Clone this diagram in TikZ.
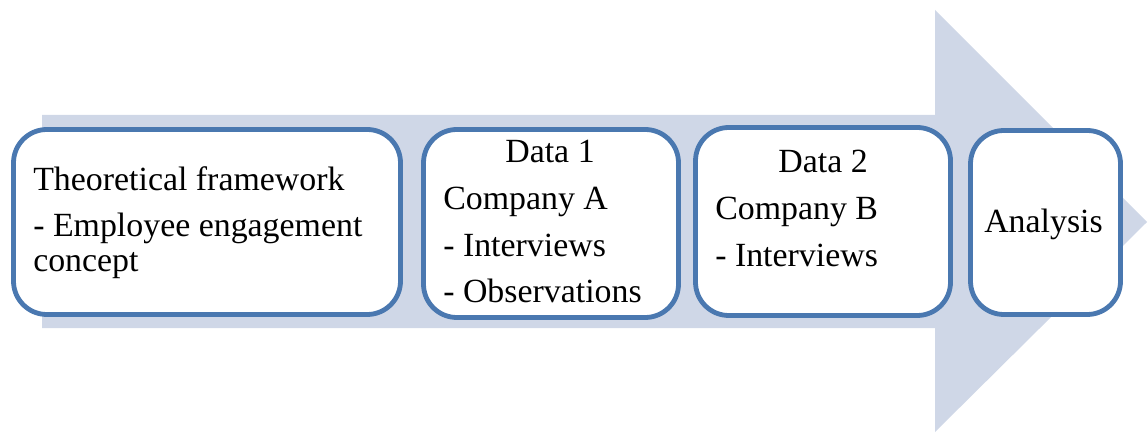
\documentclass[tikz,border=0pt]{standalone}
\usepackage{fontspec}
\setmainfont{Liberation Serif}
\definecolor{arrowfill}{HTML}{CFD7E7}
\definecolor{boxline}{HTML}{4A78B0}
\begin{document}
\begin{tikzpicture}[x=0.75pt,y=-0.75pt,
  box/.style={draw=boxline, line width=3.6pt, fill=white, rounded corners=25pt, inner sep=0pt},
  lbl/.style={anchor=base west, inner sep=0pt, font=\fontsize{25.4}{30}\selectfont},
  ctr/.style={anchor=base, inner sep=0pt, font=\fontsize{25.4}{30}\selectfont}]
\useasboundingbox (0,0) rectangle (1148,434);
\fill[arrowfill] (42,115) -- (935,115) -- (935,10) -- (1147,222) -- (935,432) -- (935,328) -- (42,328) -- cycle;
\node[box, minimum width=290.25pt, minimum height=138.75pt] (b1) at (207,222) {};
\node[box, minimum width=191.25pt, minimum height=141pt] (b2) at (551,223.5) {};
\node[box, minimum width=191.25pt, minimum height=141pt] (b3) at (823,221.5) {};
\node[box, minimum width=112.5pt, minimum height=138pt] (b4) at (1045.5,222.5) {};
\node[lbl] (t1a) at (33,191) {Theoretical framework};
\node[lbl] (t1b) at (33,237) {- Employee engagement};
\node[lbl] (t1c) at (33,272) {concept};
\node[ctr] (t2a) at (550,163) {Data 1};
\node[lbl] (t2b) at (443,210) {Company A};
\node[lbl] (t2c) at (443,257) {- Interviews};
\node[lbl] (t2d) at (443,303) {- Observations};
\node[ctr] (t3a) at (823,173) {Data 2};
\node[lbl] (t3b) at (715,220) {Company B};
\node[lbl] (t3c) at (715,267) {- Interviews};
\node[ctr] (t4a) at (1043.5,233) {Analysis};
\end{tikzpicture}
\end{document}
